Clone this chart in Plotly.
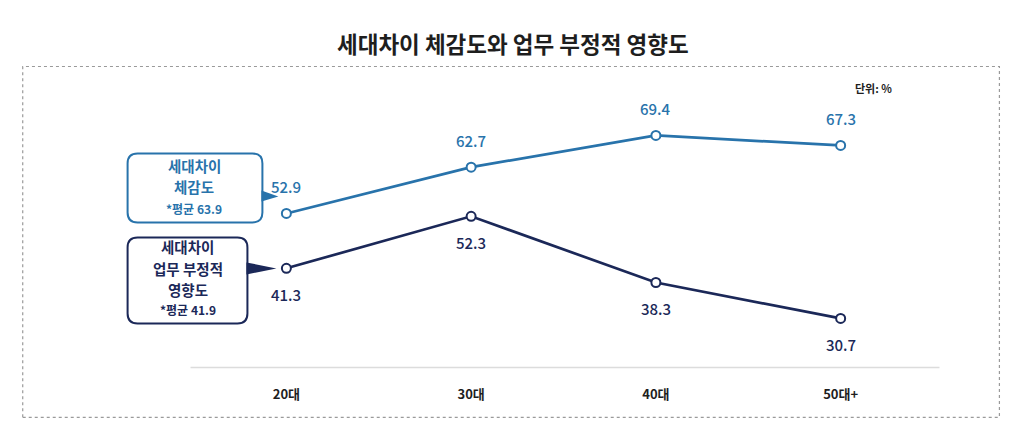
import plotly.graph_objects as go

categories = ["20대", "30대", "40대", "50대+"]
perception = [52.9, 62.7, 69.4, 67.3]
impact = [41.3, 52.3, 38.3, 30.7]
title_text = "세대차이 체감도와 업무 부정적 영향도"
unit_text = "단위: %"
box1_lines = ["세대차이", "체감도"]
box1_avg = "*평균 63.9"
box2_lines = ["세대차이", "업무 부정적", "영향도"]
box2_avg = "*평균 41.9"

# page has an 8px body margin: figure is offset by (8, 8)
OX, OY = 8, 8
W, H = 1016, 425
# plot area in page pixels
X0, X1, Y0, Y1 = 193.5, 933.5, 108.5, 368.6
ML, MR, MT, MB = X0 - OX, W - (X1 - OX), Y0 - OY, H - (Y1 - OY)
PW, PH = X1 - X0, Y1 - Y0
FONT = "Noto Sans CJK KR"
C_LIGHT = "#2873ab"
C_DARK = "#1b2858"
C_TEXT = "#1e1e1e"


def px(x):
    return (x - X0) / PW


def py(y):
    return (Y1 - y) / PH


fig = go.Figure()
fig.add_trace(go.Scatter(
    x=categories, y=perception, mode="lines+markers",
    line=dict(color=C_LIGHT, width=2.7),
    marker=dict(size=9, color="white", line=dict(color=C_LIGHT, width=2)),
    hoverinfo="skip", showlegend=False))
fig.add_trace(go.Scatter(
    x=categories, y=impact, mode="lines+markers",
    line=dict(color=C_DARK, width=2.7),
    marker=dict(size=9, color="white", line=dict(color=C_DARK, width=2)),
    hoverinfo="skip", showlegend=False))

ann = []
for c, v in zip(categories, perception):
    ann.append(dict(x=c, y=v, text=f"{v:.1f}", showarrow=False, yshift=27,
                    xanchor="center", yanchor="middle",
                    font=dict(family=FONT, size=15, color=C_LIGHT, weight=500)))
for c, v in zip(categories, impact):
    ann.append(dict(x=c, y=v, text=f"{v:.1f}", showarrow=False, yshift=-26,
                    xanchor="center", yanchor="middle",
                    font=dict(family=FONT, size=15, color=C_DARK, weight=500)))


def label(x, y, text, size, color):
    ann.append(dict(xref="paper", yref="paper", x=px(x), y=py(y), text=f"<b>{text}</b>",
                    showarrow=False, xanchor="center", yanchor="middle",
                    font=dict(family=FONT, size=size, color=color)))


label(513, 42, title_text, 22.5, C_TEXT)
label(874, 87, unit_text, 11, C_TEXT)

for t, yy in zip(box1_lines, [165, 186]):
    label(194, yy, t, 14.5, C_LIGHT)
label(194, 208, box1_avg, 12, C_LIGHT)
for t, yy in zip(box2_lines, [246, 268, 289]):
    label(187, yy, t, 14.5, C_DARK)
label(187, 309, box2_avg, 12, C_DARK)


def rrect(x0, y0, x1, y1, r):
    pts = [
        f"M {px(x0 + r)},{py(y0)}",
        f"L {px(x1 - r)},{py(y0)}",
        f"Q {px(x1)},{py(y0)} {px(x1)},{py(y0 + r)}",
        f"L {px(x1)},{py(y1 - r)}",
        f"Q {px(x1)},{py(y1)} {px(x1 - r)},{py(y1)}",
        f"L {px(x0 + r)},{py(y1)}",
        f"Q {px(x0)},{py(y1)} {px(x0)},{py(y1 - r)}",
        f"L {px(x0)},{py(y0 + r)}",
        f"Q {px(x0)},{py(y0)} {px(x0 + r)},{py(y0)}",
        "Z",
    ]
    return " ".join(pts)


def tri(x0, ya, yb, xt, yt):
    return f"M {px(x0)},{py(ya)} L {px(xt)},{py(yt)} L {px(x0)},{py(yb)} Z"


shapes = [
    dict(type="rect", xref="paper", yref="paper", x0=px(22), x1=px(1000), y0=py(417), y1=py(66),
         line=dict(color="#9a9a9a", width=1.2, dash="dot"), layer="below"),
    dict(type="line", xref="paper", yref="paper", x0=px(190), x1=px(940), y0=py(367), y1=py(367),
         line=dict(color="#dcdcdc", width=1.5), layer="below"),
    dict(type="path", xref="paper", yref="paper", path=rrect(127, 153, 262, 222, 10),
         line=dict(color=C_LIGHT, width=2), fillcolor="white"),
    dict(type="path", xref="paper", yref="paper", path=tri(261, 190, 201, 278, 196),
         line=dict(width=0), fillcolor=C_LIGHT),
    dict(type="path", xref="paper", yref="paper", path=rrect(127, 237, 247, 323, 10),
         line=dict(color=C_DARK, width=2), fillcolor="white"),
    dict(type="path", xref="paper", yref="paper", path=tri(246, 262, 274, 276, 268),
         line=dict(width=0), fillcolor=C_DARK),
]

fig.update_layout(
    width=W, height=H,
    margin=dict(l=ML, r=MR, t=MT, b=MB, autoexpand=False),
    paper_bgcolor="white", plot_bgcolor="white",
    annotations=ann, shapes=shapes,
    xaxis=dict(type="category", range=[-0.5, 3.5], showgrid=False, zeroline=False, showline=False,
               ticks="", tickfont=dict(family=FONT, size=13, color=C_TEXT),
               ticklabelstandoff=16, fixedrange=True),
    yaxis=dict(range=[20, 75], visible=False, fixedrange=True),
    font=dict(family=FONT),
)
fig.update_xaxes(tickvals=categories, ticktext=[f"<b>{c}</b>" for c in categories])

fig.write_html("out.html")
